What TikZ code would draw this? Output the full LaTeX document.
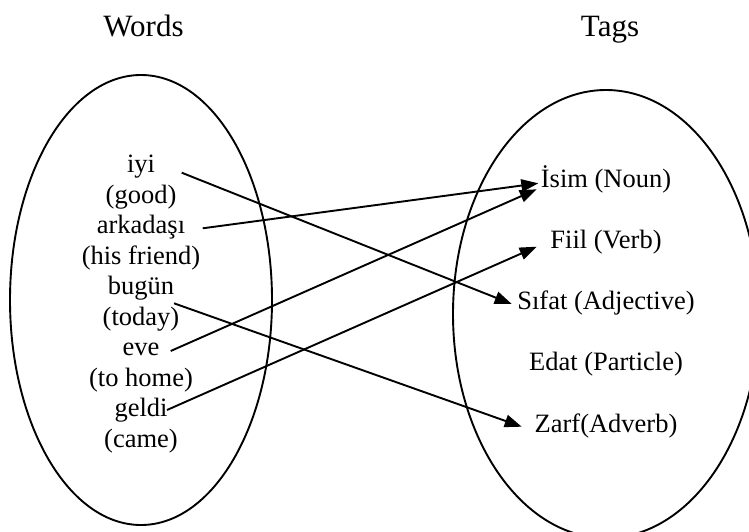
\documentclass[tikz,border=0pt]{standalone}
\usepackage{fontspec}
\setmainfont{Liberation Serif}
\usetikzlibrary{shapes.geometric,arrows.meta}

\begin{document}
\begin{tikzpicture}[x=1pt,y=-1pt,
    setshape/.style={ellipse,draw,line width=1.9pt,inner sep=0pt},
    title/.style={font=\fontsize{31}{36}\selectfont,anchor=base},
    word/.style={font=\fontsize{26.5}{30}\selectfont,anchor=base},
    tag/.style={font=\fontsize{26.5}{30}\selectfont,anchor=base},
    link/.style={line width=1.9pt,-{Triangle[length=17pt,width=12.5pt]}}]
  \useasboundingbox (0,0) rectangle (749,532);
  \clip (0,0) rectangle (749,532);

  % the two sets
  \node[setshape,minimum width=262pt,minimum height=450pt] (words) at (141,300) {};
  \node[setshape,minimum width=306pt,minimum height=448pt] (tags) at (606,314) {};

  % headings
  \node[title] (wordstitle) at (143.5,37) {Words};
  \node[title] (tagstitle) at (610,37) {Tags};

  % words with their glosses
  \node[word] (iyi)      at (141,172.5) {iyi};
  \node[word] (good)     at (141,203)   {(good)};
  \node[word] (arkadasi) at (141,233.5) {arkadaşı};
  \node[word] (friend)   at (141,264)   {(his friend)};
  \node[word] (bugun)    at (141,294.5) {bugün};
  \node[word] (today)    at (141,325)   {(today)};
  \node[word] (eve)      at (141,355.5) {eve};
  \node[word] (tohome)   at (141,386)   {(to home)};
  \node[word] (geldi)    at (141,416.5) {geldi};
  \node[word] (came)     at (141,447)   {(came)};

  % part-of-speech tags
  \node[tag] (isim)  at (606,187.5) {İsim (Noun)};
  \node[tag] (fiil)  at (606,248.5) {Fiil (Verb)};
  \node[tag] (sifat) at (606,309)   {Sıfat (Adjective)};
  \node[tag] (edat)  at (606,370.5) {Edat (Particle)};
  \node[tag] (zarf)  at (606,432.5) {Zarf(Adverb)};

  % connector ends
  \coordinate (iyiOut)   at (181.7,172.7);
  \coordinate (arkOut)   at (202.7,228.3);
  \coordinate (bugunOut) at (174,303.3);
  \coordinate (eveOut)   at (170.7,351);
  \coordinate (geldiOut) at (167,410);
  \coordinate (isimInA)  at (538.3,183.3);
  \coordinate (isimInB)  at (536.7,189.3);
  \coordinate (fiilIn)   at (536.7,246.7);
  \coordinate (sifatIn)  at (511.7,304);
  \coordinate (zarfIn)   at (521.7,426.7);

  % word-to-tag mapping
  \draw[link] (iyiOut)   -- (sifatIn);
  \draw[link] (arkOut)   -- (isimInA);
  \draw[link] (eveOut)   -- (isimInB);
  \draw[link] (bugunOut) -- (zarfIn);
  \draw[link] (geldiOut) -- (fiilIn);
\end{tikzpicture}
\end{document}
